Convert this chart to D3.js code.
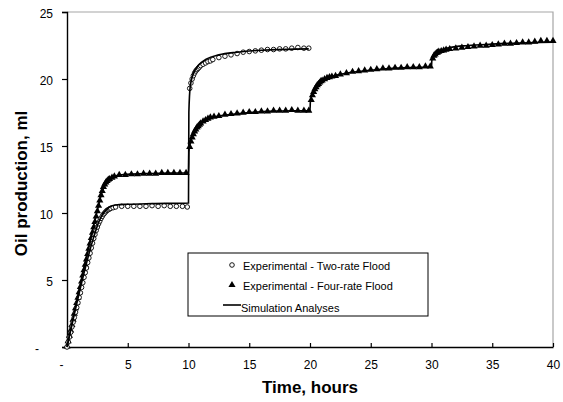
<!DOCTYPE html>
<html>
<head>
<meta charset="utf-8">
<script src="https://cdn.jsdelivr.net/npm/d3@7"></script>
<style>
  body { margin: 0; background: #fff; }
  text { font-family: "Liberation Sans", Arial, sans-serif; }
</style>
</head>
<body>
<script>
// Experimental - Two-rate Flood (circles)
var twoTime = [0, 0.1, 0.2, 0.3, 0.4, 0.5, 0.6, 0.7, 0.8, 0.9, 1.0, 1.1, 1.2, 1.3, 1.4, 1.5, 1.6, 1.7, 1.8, 1.9,
  2.0, 2.1, 2.2, 2.3, 2.4, 2.5, 2.6, 2.7, 2.8, 2.9, 3.0, 3.1, 3.2, 3.3, 3.4, 3.5, 3.6, 3.8, 4.0, 4.5,
  5.0, 5.5, 6.0, 6.5, 7.0, 7.5, 8.0, 8.5, 9.0, 9.5, 9.9,
  10.1, 10.2, 10.3, 10.4, 10.5, 10.6, 10.7, 10.8, 10.9, 11.0, 11.2, 11.4, 11.6, 11.8, 12.0, 12.5, 13.0,
  13.5, 14.0, 14.5, 15.0, 15.5, 16.0, 16.5, 17.0, 17.5, 18.0, 18.5, 19.0, 19.5, 19.9];
var twoOil = [0, 0.37, 0.74, 1.1, 1.5, 1.85, 2.2, 2.6, 2.95, 3.3, 3.7, 4.05, 4.45, 4.8, 5.2, 5.55, 5.9, 6.3, 6.65, 7.0,
  7.4, 7.75, 8.1, 8.4, 8.7, 8.95, 9.2, 9.4, 9.6, 9.75, 9.9, 10.0, 10.1, 10.2, 10.25, 10.3, 10.35, 10.4, 10.45, 10.5,
  10.5, 10.5, 10.5, 10.5, 10.55, 10.5, 10.55, 10.5, 10.5, 10.5, 10.45,
  19.3, 19.7, 20.0, 20.25, 20.45, 20.6, 20.7, 20.8, 20.9, 21.0, 21.1, 21.2, 21.3, 21.35, 21.45, 21.6, 21.7,
  21.8, 21.9, 22.0, 22.05, 22.1, 22.15, 22.2, 22.2, 22.25, 22.25, 22.3, 22.35, 22.3, 22.3];

// Experimental - Four-rate Flood (triangles)
var fourTime = [0, 0.1, 0.2, 0.3, 0.4, 0.5, 0.6, 0.7, 0.8, 0.9, 1.0, 1.1, 1.2, 1.3, 1.4, 1.5, 1.6, 1.7, 1.8, 1.9,
  2.0, 2.1, 2.2, 2.3, 2.4, 2.5, 2.6, 2.7, 2.8, 2.9, 3.0, 3.1, 3.2, 3.3, 3.4, 3.5, 3.7, 3.9, 4.3, 4.8,
  5.3, 5.8, 6.3, 6.8, 7.3, 7.8, 8.3, 8.8, 9.3, 9.8,
  10.1, 10.2, 10.3, 10.4, 10.5, 10.6, 10.7, 10.8, 10.9, 11.0, 11.2, 11.4, 11.6, 11.8, 12.1, 12.5, 13.0,
  13.5, 14.0, 14.5, 15.0, 15.5, 16.0, 16.5, 17.0, 17.5, 18.0, 18.5, 19.0, 19.5, 19.9,
  20.1, 20.2, 20.3, 20.4, 20.5, 20.6, 20.7, 20.8, 20.9, 21.0, 21.2, 21.4, 21.6, 21.8, 22.1, 22.5, 23.0,
  23.5, 24.0, 24.5, 25.0, 25.5, 26.0, 26.5, 27.0, 27.5, 28.0, 28.5, 29.0, 29.5, 29.9,
  30.1, 30.2, 30.3, 30.4, 30.5, 30.6, 30.8, 31.0, 31.2, 31.5, 32.0, 32.5, 33.0, 33.5, 34.0, 34.5, 35.0,
  35.5, 36.0, 36.5, 37.0, 37.5, 38.0, 38.5, 39.0, 39.5, 40.0];
var fourOil = [0, 0.4, 0.8, 1.2, 1.6, 2.0, 2.45, 2.85, 3.25, 3.65, 4.05, 4.45, 4.85, 5.3, 5.7, 6.1, 6.5, 6.9, 7.3, 7.7,
  8.1, 8.5, 8.9, 9.3, 9.7, 10.1, 10.5, 10.9, 11.3, 11.6, 11.9, 12.1, 12.25, 12.35, 12.45, 12.5, 12.6, 12.7, 12.8, 12.8,
  12.85, 12.85, 12.9, 12.9, 12.9, 12.95, 12.95, 12.95, 12.95, 12.95,
  14.9, 15.3, 15.6, 15.85, 16.05, 16.2, 16.35, 16.45, 16.55, 16.65, 16.8, 16.9, 17.0, 17.1, 17.15, 17.2, 17.3,
  17.35, 17.4, 17.45, 17.5, 17.5, 17.55, 17.55, 17.6, 17.6, 17.6, 17.65, 17.6, 17.6, 17.6,
  18.4, 18.75, 19.0, 19.2, 19.35, 19.5, 19.6, 19.7, 19.8, 19.85, 19.95, 20.05, 20.1, 20.15, 20.2, 20.3, 20.4,
  20.5, 20.55, 20.6, 20.65, 20.7, 20.75, 20.75, 20.8, 20.8, 20.85, 20.85, 20.85, 20.9, 20.9,
  21.5, 21.7, 21.8, 21.9, 21.95, 22.0, 22.05, 22.1, 22.15, 22.2, 22.25, 22.3, 22.35, 22.4, 22.45, 22.45, 22.5,
  22.55, 22.6, 22.6, 22.65, 22.7, 22.7, 22.75, 22.8, 22.8, 22.8];

// Simulation Analyses (lines)
var simTwoTime = [0, 2.2, 2.6, 3.0, 3.5, 4.0, 5.0, 7.0, 10.0, 10.03, 10.15, 10.4, 10.8, 11.5, 12.5, 14.0, 16.0, 19.9];
var simTwoOil = [0, 8.2, 9.3, 10.0, 10.45, 10.6, 10.65, 10.7, 10.75, 17.5, 19.5, 20.4, 21.0, 21.5, 21.8, 22.0, 22.15, 22.25];
var simFourTime = [0, 2.5, 2.9, 3.3, 3.8, 4.5, 7.0, 10.0, 10.03, 10.2, 10.5, 11.0, 12.0, 14.0, 17.0, 20.0,
  20.03, 20.3, 20.7, 21.3, 22.5, 25.0, 28.0, 30.0, 30.03, 30.3, 30.8, 31.5, 33.0, 35.0, 40.0];
var simFourOil = [0, 10.2, 11.6, 12.35, 12.7, 12.85, 12.95, 13.0, 14.6, 15.4, 16.1, 16.7, 17.15, 17.4, 17.6, 17.65,
  18.3, 19.1, 19.6, 20.0, 20.35, 20.65, 20.85, 20.9, 21.4, 21.85, 22.15, 22.35, 22.5, 22.6, 22.75];

var xTicks = [0, 5, 10, 15, 20, 25, 30, 35, 40];
var yTicks = [0, 5, 10, 15, 20, 25];
var legendLabels = ["Experimental - Two-rate Flood", "Experimental - Four-rate Flood", "Simulation Analyses"];

var width = 563, height = 402;
var margin = {top: 12, right: 10, bottom: 55, left: 67};
var plotW = 486, plotH = 335;

var svg = d3.select("body").append("svg")
    .attr("width", width)
    .attr("height", height);

var g = svg.append("g")
    .attr("transform", `translate(${margin.left},${margin.top})`);

var x = d3.scaleLinear().domain([0, 40]).range([0, plotW]);
var y = d3.scaleLinear().domain([0, 25]).range([plotH, 0]);

// grey top/right frame
g.append("path")
    .attr("d", `M0,0H${plotW}V${plotH}`)
    .attr("fill", "none")
    .attr("stroke", "#a6a6a6")
    .attr("stroke-width", 1.2);

var yAxis = g.append("g")
    .call(d3.axisLeft(y).tickValues(yTicks).tickSize(5).tickPadding(9)
      .tickFormat(d => d === 0 ? "-" : d));
yAxis.select(".domain").attr("stroke-width", 1.4);
yAxis.selectAll(".tick line").attr("stroke-width", 1.2);
yAxis.selectAll("text")
    .style("font-size", "12px")
    .attr("fill", "#000")
    .attr("dy", "0.45em")
    .attr("dx", d => d === 0 ? -14 : 0);

var xAxis = g.append("g")
    .attr("transform", `translate(0,${plotH})`)
    .call(d3.axisBottom(x).tickValues(xTicks).tickSizeInner(-4).tickSizeOuter(0).tickPadding(13)
      .tickFormat(d => d === 0 ? "-" : d));
xAxis.select(".domain").attr("stroke-width", 1.4);
xAxis.selectAll(".tick line").attr("stroke-width", 1.2);
xAxis.selectAll("text")
    .style("font-size", "12px")
    .attr("fill", "#000")
    .attr("dx", d => d === 0 ? -6 : 0);

// axis titles
svg.append("text")
    .attr("x", margin.left + plotW / 2)
    .attr("y", 393)
    .attr("text-anchor", "middle")
    .style("font-size", "17px")
    .style("font-weight", "bold")
    .text("Time, hours");

svg.append("text")
    .attr("transform", `translate(27,${margin.top + plotH / 2 + 4}) rotate(-90)`)
    .attr("text-anchor", "middle")
    .style("font-size", "17px")
    .style("font-weight", "bold")
    .text("Oil production, ml");

var line = d3.line()
    .x(d => x(d[0]))
    .y(d => y(d[1]))
    .curve(d3.curveMonotoneX);

var simTwo = simTwoTime.map((t, i) => [t, simTwoOil[i]]);
var simFour = simFourTime.map((t, i) => [t, simFourOil[i]]);
var two = twoTime.map((t, i) => [t, twoOil[i]]);
var four = fourTime.map((t, i) => [t, fourOil[i]]);

var tri = d3.symbol().type(d3.symbolTriangle).size(22);

g.selectAll(".tri")
    .data(four)
  .enter().append("path")
    .attr("class", "tri")
    .attr("d", tri)
    .attr("transform", d => `translate(${x(d[0])},${y(d[1]) - 0.5})`)
    .attr("fill", "#000");

g.selectAll(".circ")
    .data(two)
  .enter().append("circle")
    .attr("class", "circ")
    .attr("cx", d => x(d[0]))
    .attr("cy", d => y(d[1]))
    .attr("r", 2.3)
    .attr("fill", "#fff")
    .attr("stroke", "#000")
    .attr("stroke-width", 0.9);

[simTwo, simFour].forEach(function(s) {
  g.append("path")
      .datum(s)
      .attr("d", line)
      .attr("fill", "none")
      .attr("stroke", "#000")
      .attr("stroke-width", 1.6);
});

// legend
var lg = svg.append("g").attr("transform", "translate(188,253)");
lg.append("rect")
    .attr("width", 240)
    .attr("height", 63)
    .attr("fill", "#fff")
    .attr("stroke", "#000")
    .attr("stroke-width", 1);

lg.append("circle")
    .attr("cx", 44).attr("cy", 12).attr("r", 2.3)
    .attr("fill", "#fff").attr("stroke", "#000").attr("stroke-width", 0.9);
lg.append("path")
    .attr("d", tri)
    .attr("transform", "translate(44,32)")
    .attr("fill", "#000");
lg.append("line")
    .attr("x1", 35).attr("x2", 53).attr("y1", 52).attr("y2", 52)
    .attr("stroke", "#000").attr("stroke-width", 1.6);

lg.selectAll(".lab")
    .data(legendLabels)
  .enter().append("text")
    .attr("class", "lab")
    .attr("x", (d, i) => i === 2 ? 53 : 55)
    .attr("y", (d, i) => [13, 33, 55][i])
    .attr("dy", "0.35em")
    .style("font-size", "11px")
    .text(d => d);
</script>
</body>
</html>
